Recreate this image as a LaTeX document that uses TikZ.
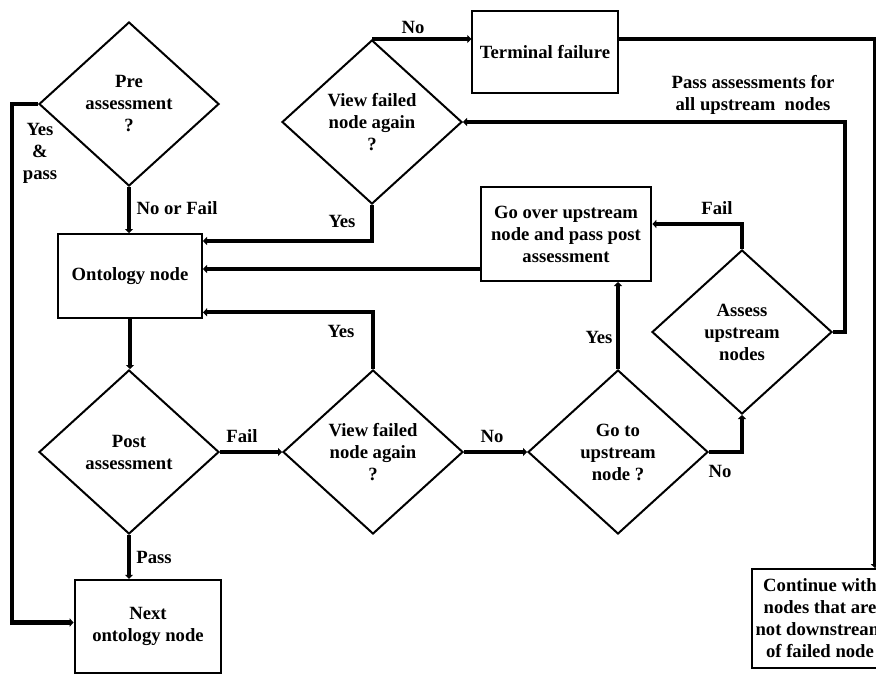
\documentclass[tikz,border=0pt]{standalone}
\usepackage{fontspec}
\setmainfont{Liberation Serif}
\usetikzlibrary{shapes.geometric,arrows.meta}
\begin{document}
\begin{tikzpicture}[x=0.75pt,y=-0.75pt,>={Triangle[length=3pt,width=6pt]}, font=\fontsize{14}{16.5}\selectfont\bfseries, line join=miter,
	box/.style={draw,line width=1.5pt,align=center,inner sep=0pt},
	decision/.style={draw,diamond,line width=1.5pt,align=center,inner sep=0pt,minimum width=135pt,minimum height=123pt},
	lab/.style={align=center,inner sep=0pt},
	conn/.style={->,line width=3.1pt}]
			\useasboundingbox (0,0) rectangle (876,675);
			\clip (0,0) rectangle (876,675);
			% Khung va hinh thoi
			\node[decision] (pre) at (129,104) {Pre\\assessment\\?};
			\node[box,minimum width=108pt,minimum height=63pt] (onto) at (130,276) {Ontology node};
			\node[decision] (post) at (129,452) {Post\\assessment};
			\node[box,minimum width=110pt,minimum height=70pt] (next) at (148,626.5) {Next\\ontology node};
			\node[decision] (view1) at (372,122) {View failed\\node again\\?};
			\node[decision] (view2) at (373,452) {View failed\\node again\\?};
			\node[decision] (goto) at (618,452) {Go to\\upstream\\node ?};
			\node[decision] (assess) at (742,332) {Assess\\upstream\\nodes};
			\node[box,minimum width=128pt,minimum height=70.5pt] (gover) at (566,234) {Go over upstream\\node and pass post\\assessment};
			\node[box,minimum width=109pt,minimum height=62pt] (term) at (545,52) {Terminal failure};
			\node[box,minimum width=102pt,minimum height=74pt] (cont) at (820,618.5) {Continue with\\nodes that are\\not downstream\\of failed node};
			% Diem vao
			\coordinate (in1) at ([yshift=-6pt]onto.north east);
			\coordinate (in2) at ([yshift=5.25pt]onto.east);
			\coordinate (in3) at ([yshift=5pt]onto.south east);
			\coordinate (in4) at ([yshift=3pt]next.west);
			\coordinate (in5) at ([yshift=7.5pt]gover.east);
			\coordinate (rim) at (875,0);
			% Mui ten
			\draw[conn] (pre.south) -- (pre.south |- onto.north);
			\draw[conn] (pre.west) -- ++(-26,0) |- (in4);
			\draw[conn] (onto.south) -- (onto.south |- post.north);
			\draw[conn] (post.south) -- (post.south |- next.north);
			\draw[conn] (post.east) -- (post.east -| view2.west);
			\draw[conn] (view2.north) |- (in3);
			\draw[conn] (view2.east) -- (goto.west);
			\draw[conn] (goto.north) -- (goto.north |- gover.south);
			\draw[conn] (goto.east) -| (assess.south);
			\draw[conn] (assess.north) |- (in5);
			\draw[conn] (gover.west |- in2) -- (in2);
			\draw[conn] (view1.south) |- (in1);
			\draw[conn] (view1.north) -- (view1.north -| term.west);
			\draw[conn] (view1.north -| term.east) -| (rim |- cont.north);
			\draw[conn] (assess.east) -- ++(12,0) |- (view1.east);
			% Nhan
			\node[lab] (yespass) at (40,153) {Yes\\\&\\pass};
			\node[lab] (nofail) at (177,208) {No or Fail};
			\node[lab] (yes1) at (342,221) {Yes};
			\node[lab] (no1) at (413,27) {No};
			\node[lab] (yes2) at (341,331) {Yes};
			\node[lab] (fail1) at (242,436) {Fail};
			\node[lab] (pass) at (154,557) {Pass};
			\node[lab] (no2) at (492,436) {No};
			\node[lab] (yes3) at (599,337) {Yes};
			\node[lab] (fail2) at (717,208) {Fail};
			\node[lab] (no3) at (720,471) {No};
			\node[lab] (passall) at (753,95) {Pass assessments for\\all upstream\ \ nodes};
	\end{tikzpicture}
\end{document}
